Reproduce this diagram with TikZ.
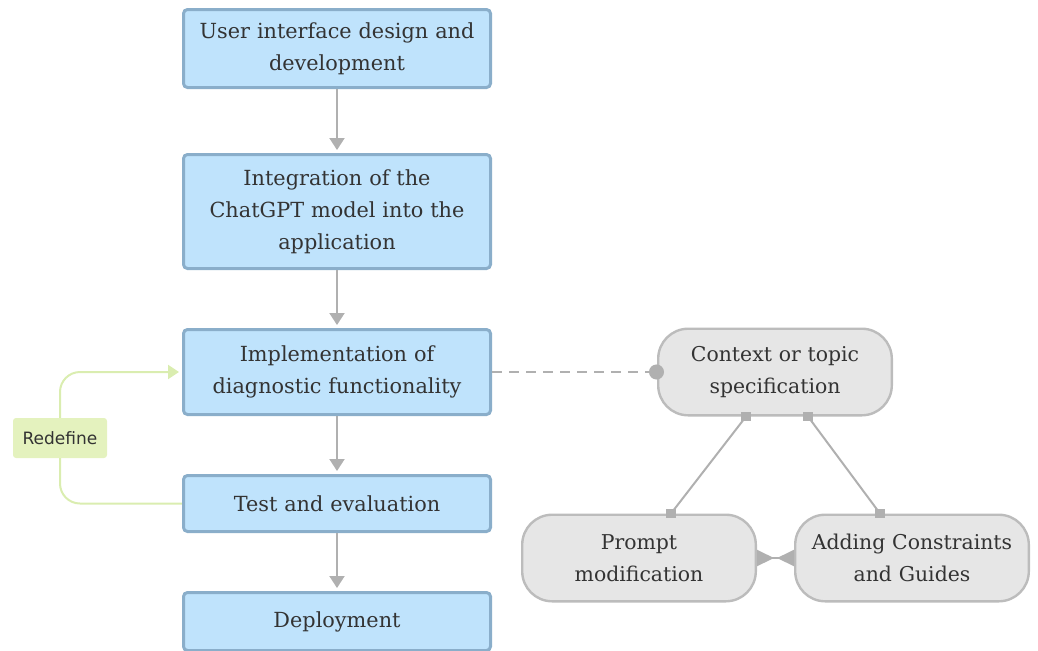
\documentclass[tikz,border=0pt]{standalone}
\usepackage{fontspec}
\setmainfont{DejaVu Serif}
\setsansfont{DejaVu Sans}
\usetikzlibrary{arrows.meta, positioning, backgrounds}
\definecolor{stagefill}{RGB}{191,227,252}
\definecolor{stageline}{RGB}{138,174,202}
\definecolor{ideafill}{RGB}{230,230,230}
\definecolor{idealine}{RGB}{188,188,188}
\definecolor{wire}{RGB}{176,176,176}
\definecolor{redofill}{RGB}{228,242,190}
\definecolor{redoline}{RGB}{218,237,176}
\tikzset{%
	stage/.style={draw=stageline, fill=stagefill, line width=1.5pt, rounded corners=2pt,%
		minimum width=153.5pt, text width=153pt, align=center, inner sep=0pt,%
		font=\fontsize{10.4}{16}\selectfont, text=black!80},
	idea/.style={draw=idealine, fill=ideafill, line width=1.2pt, rounded corners=15pt,%
		minimum width=116.8pt, minimum height=43.3pt, text width=116pt, align=center,%
		inner sep=0pt, font=\fontsize{10.2}{16}\selectfont, text=black!80},
	flow/.style={-{Triangle[width=7.5pt,length=6pt]}, draw=wire, line width=1pt, shorten >=1.5pt},
	tie/.style={draw=wire, line width=1pt, dash pattern=on 5pt off 3.5pt,%
		-{Circle[length=7.5pt]}, shorten >=-3.5pt},
	peg/.style={draw=wire, line width=1pt},
	pegend/.style={fill=wire, minimum size=4.8pt, inner sep=0pt, rectangle},
	pair/.style={draw=wire, line width=1pt,%
		{Triangle[reversed, width=8pt, length=8.5pt]}-{Triangle[reversed, width=8pt, length=8.5pt]}},
	redobox/.style={fill=redofill, rounded corners=1.5pt, minimum width=47pt, minimum height=20pt,%
		inner sep=0pt, font=\sffamily\fontsize{8.5}{10}\selectfont, text=black!80},
	redo/.style={draw=redoline, line width=1pt, rounded corners=10pt,%
		-{Triangle[width=7pt,length=5.5pt]}, shorten >=1.5pt}
}

\begin{document}
\begin{tikzpicture}[x=0.5pt, y=-0.5pt]
	\useasboundingbox (0,0) rectangle (1038,650);

	% main development steps
	\node[stage, minimum height=39pt] (ui) at (337,48.5) {User interface design and\\ development};
	\node[stage, minimum height=57pt, below=32pt of ui] (chat) {Integration of the\\ ChatGPT model into the\\ application};
	\node[stage, minimum height=42.5pt, below=29pt of chat] (diag) {Implementation of\\ diagnostic functionality};
	\node[stage, minimum height=28pt, below=29pt of diag] (test) {Test and evaluation};
	\node[stage, minimum height=29pt, below=29pt of test] (deploy) {Deployment};

	\draw[flow] (ui) -- (chat);
	\draw[flow] (chat) -- (diag);
	\draw[flow] (diag) -- (test);
	\draw[flow] (test) -- (deploy);

	% feedback loop
	\node[redobox] (redef) at (60,438) {Redefine};
	\begin{pgfonlayer}{background}
		\draw[redo] (test.west) -| (redef.center) |- (diag.west);
	\end{pgfonlayer}

	% prompt engineering triangle
	\node[idea, right=82.5pt of diag] (ctx) {Context or topic\\ specification};
	\node[idea] (prompt) at (639,558) {Prompt\\ modification};
	\node[idea, right=18.5pt of prompt] (guide) {Adding Constraints\\ and Guides};

	\draw[tie] (diag.east) -- (ctx.west);
	\draw[peg] ([xshift=-14.5pt]ctx.south) -- ([xshift=16pt]prompt.north)
		node[pegend, pos=0] {} node[pegend, pos=1] {};
	\draw[peg] ([xshift=16.5pt]ctx.south) -- ([xshift=-16pt]guide.north)
		node[pegend, pos=0] {} node[pegend, pos=1] {};
	\draw[pair] (prompt.east) -- (guide.west);
\end{tikzpicture}
\end{document}
